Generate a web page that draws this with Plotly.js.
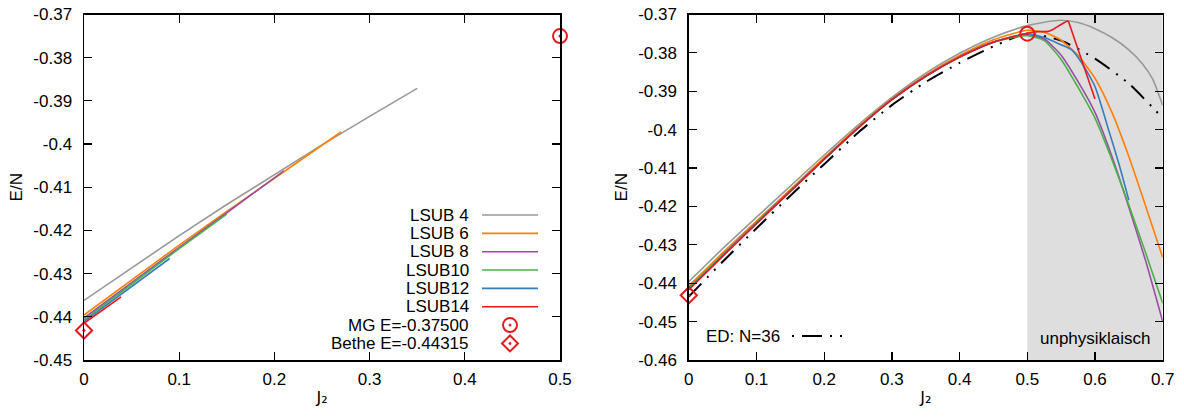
<!DOCTYPE html>
<html><head><meta charset="utf-8">
<script src="https://cdn.plot.ly/plotly-3.0.1.min.js"></script>
<style>html,body{margin:0;padding:0;background:#fff}#chart{width:1184px;height:419px}</style>
</head><body><div id="chart"></div>
<script>
// ---------- data ----------
const seriesNames = ["LSUB 4", "LSUB 6", "LSUB 8", "LSUB10", "LSUB12", "LSUB14"];
const seriesColors = ["#999999", "#ff7f00", "#984ea3", "#4daf4a", "#377eb8", "#e41a1c"];

// left panel (J2, E/N)
const leftLsub4J2 = [0, 0.05, 0.1, 0.15, 0.2, 0.25, 0.3, 0.35];
const leftLsub4E  = [-0.4362, -0.4286, -0.4212, -0.4140, -0.4070, -0.4002, -0.3936, -0.3871];
const leftLsub6J2 = [0, 0.05, 0.1, 0.15, 0.2, 0.27];
const leftLsub6E  = [-0.4396, -0.4314, -0.4234, -0.4156, -0.4079, -0.3972];
const leftLsub8J2 = [0, 0.05, 0.1, 0.15, 0.21];
const leftLsub8E  = [-0.4403, -0.4320, -0.4239, -0.4159, -0.4062];
const leftLsub10J2 = [0, 0.05, 0.1, 0.15];
const leftLsub10E  = [-0.4407, -0.4324, -0.4242, -0.4162];
const leftLsub12J2 = [0, 0.045, 0.09];
const leftLsub12E  = [-0.4411, -0.4338, -0.4265];
const leftLsub14J2 = [0, 0.02, 0.039];
const leftLsub14E  = [-0.4415, -0.4384, -0.4354];

// right panel (J2, E/N)
const rightLsub4J2 = [0, 0.05, 0.1, 0.15, 0.2, 0.25, 0.3, 0.35, 0.4, 0.45, 0.5, 0.525, 0.55, 0.575, 0.6, 0.625, 0.65, 0.67, 0.685, 0.7];
const rightLsub4E  = [-0.4396, -0.4310, -0.4228, -0.4147, -0.4066, -0.3988, -0.3916, -0.3853, -0.3801, -0.3759, -0.3729, -0.3720, -0.3715, -0.3721, -0.3737, -0.3760, -0.3792, -0.3828, -0.3868, -0.3937];
const rightLsub6J2 = [0, 0.05, 0.1, 0.15, 0.2, 0.25, 0.3, 0.35, 0.4, 0.45, 0.5, 0.525, 0.55, 0.575, 0.6, 0.625, 0.65, 0.675, 0.7];
const rightLsub6E  = [-0.4407, -0.4321, -0.4238, -0.4156, -0.4073, -0.3993, -0.3920, -0.3858, -0.3807, -0.3766, -0.3741, -0.3746, -0.3767, -0.3807, -0.3866, -0.3955, -0.4070, -0.4200, -0.4333];
const rightLsub8J2 = [0, 0.05, 0.1, 0.15, 0.2, 0.25, 0.3, 0.35, 0.4, 0.45, 0.5, 0.525, 0.55, 0.575, 0.6, 0.625, 0.65, 0.675, 0.7];
const rightLsub8E  = [-0.4412, -0.4326, -0.4242, -0.4159, -0.4076, -0.3995, -0.3921, -0.3860, -0.3810, -0.3771, -0.3752, -0.3764, -0.3806, -0.3875, -0.3955, -0.4070, -0.4202, -0.4343, -0.4500];
const rightLsub10J2 = [0, 0.05, 0.1, 0.15, 0.2, 0.25, 0.3, 0.35, 0.4, 0.45, 0.5, 0.525, 0.55, 0.575, 0.6, 0.625, 0.65, 0.675, 0.7];
const rightLsub10E  = [-0.4414, -0.4327, -0.4243, -0.4160, -0.4077, -0.3996, -0.3922, -0.3861, -0.3811, -0.3772, -0.3755, -0.3768, -0.3817, -0.3890, -0.3970, -0.4078, -0.4196, -0.4322, -0.4452];
const rightLsub12J2 = [0, 0.05, 0.1, 0.15, 0.2, 0.25, 0.3, 0.35, 0.4, 0.45, 0.5, 0.525, 0.55, 0.5655, 0.58, 0.6, 0.62, 0.635, 0.65];
const rightLsub12E  = [-0.4415, -0.4329, -0.4244, -0.4161, -0.4077, -0.3996, -0.3922, -0.3861, -0.3811, -0.3772, -0.3750, -0.3760, -0.3779, -0.3792, -0.3825, -0.3888, -0.4000, -0.4087, -0.4184];
const rightLsub14J2 = [0, 0.05, 0.1, 0.15, 0.2, 0.25, 0.3, 0.35, 0.4, 0.45, 0.5, 0.515, 0.531, 0.538, 0.548, 0.555, 0.5605, 0.6];
const rightLsub14E  = [-0.4417, -0.4330, -0.4245, -0.4161, -0.4077, -0.3996, -0.3922, -0.3861, -0.3811, -0.3772, -0.3749, -0.3745, -0.3744, -0.3739, -0.3728, -0.3721, -0.3716, -0.3920];

const edName = "ED: N=36";
const edJ2 = [0, 0.05, 0.1, 0.15, 0.2, 0.25, 0.3, 0.35, 0.4, 0.45, 0.5, 0.55, 0.6, 0.65, 0.7];
const edE  = [-0.4435, -0.4344, -0.4257, -0.4172, -0.4090, -0.4008, -0.3936, -0.3876, -0.3826, -0.3783, -0.3750, -0.3768, -0.3815, -0.3880, -0.3970];

const pointNames = ["MG E=-0.37500", "Bethe E=-0.44315"];
const pointJ2 = [0.5, 0];
const pointE  = [-0.375, -0.44315];

const unphysicalRange = [0.5, 0.7];
const unphysicalLabel = "unphysiklaisch";

const leftXTickVals = [0, 0.1, 0.2, 0.3, 0.4, 0.5];
const leftXTickText = ["0", "0.1", "0.2", "0.3", "0.4", "0.5"];
const leftYTickVals = [-0.45, -0.44, -0.43, -0.42, -0.41, -0.40, -0.39, -0.38, -0.37];
const leftYTickText = ["-0.45", "-0.44", "-0.43", "-0.42", "-0.41", "-0.4", "-0.39", "-0.38", "-0.37"];
const rightXTickVals = [0, 0.1, 0.2, 0.3, 0.4, 0.5, 0.6, 0.7];
const rightXTickText = ["0", "0.1", "0.2", "0.3", "0.4", "0.5", "0.6", "0.7"];
const rightYTickVals = [-0.46, -0.45, -0.44, -0.43, -0.42, -0.41, -0.40, -0.39, -0.38, -0.37];
const rightYTickText = ["-0.46", "-0.45", "-0.44", "-0.43", "-0.42", "-0.41", "-0.4", "-0.39", "-0.38", "-0.37"];

const xTitle = "J\u2082";
const yTitle = "E/N";

// ---------- layout helpers ----------
const W = 1184, H = 419;
const FONT = "Liberation Sans, Arial, Helvetica, sans-serif";
const FS = 17;
const px = v => v / W;
const py = v => 1 - v / H;

const leftSeries = [
  [leftLsub4J2, leftLsub4E], [leftLsub6J2, leftLsub6E], [leftLsub8J2, leftLsub8E],
  [leftLsub10J2, leftLsub10E], [leftLsub12J2, leftLsub12E], [leftLsub14J2, leftLsub14E]
];
const rightSeries = [
  [rightLsub4J2, rightLsub4E], [rightLsub6J2, rightLsub6E], [rightLsub8J2, rightLsub8E],
  [rightLsub10J2, rightLsub10E], [rightLsub12J2, rightLsub12E], [rightLsub14J2, rightLsub14E]
];

const traces = [];
leftSeries.forEach((s, i) => {
  traces.push({x: s[0], y: s[1], type: 'scatter', mode: 'lines', xaxis: 'x', yaxis: 'y',
    name: seriesNames[i], showlegend: false, hoverinfo: 'skip',
    line: {color: seriesColors[i], width: 1.6}});
});
traces.push({x: edJ2, y: edE, type: 'scatter', mode: 'lines', xaxis: 'x2', yaxis: 'y2',
  name: edName, showlegend: false, hoverinfo: 'skip',
  line: {color: '#000', width: 2, dash: '18px,8px,2px,8px,2px,8px', shape: 'spline', smoothing: 0.6}});
rightSeries.forEach((s, i) => {
  if (i === 5) {
    // split at the peak so the kink stays sharp
    let k = 0;
    s[1].forEach((v, j) => { if (v > s[1][k]) k = j; });
    traces.push({x: s[0].slice(0, k + 1), y: s[1].slice(0, k + 1), type: 'scatter', mode: 'lines',
      xaxis: 'x2', yaxis: 'y2', name: seriesNames[i], showlegend: false, hoverinfo: 'skip',
      line: {color: seriesColors[i], width: 1.6, shape: 'spline', smoothing: 0.6}});
    traces.push({x: s[0].slice(k), y: s[1].slice(k), type: 'scatter', mode: 'lines',
      xaxis: 'x2', yaxis: 'y2', name: seriesNames[i], showlegend: false, hoverinfo: 'skip',
      line: {color: seriesColors[i], width: 1.6}});
  } else {
    traces.push({x: s[0], y: s[1], type: 'scatter', mode: 'lines', xaxis: 'x2', yaxis: 'y2',
      name: seriesNames[i], showlegend: false, hoverinfo: 'skip',
      line: {color: seriesColors[i], width: 1.6, shape: 'spline', smoothing: 0.6}});
  }
});
const symbols = ['circle-open-dot', 'diamond-open-dot'];
const sizes = [14, 12.5];
[['x', 'y'], ['x2', 'y2']].forEach(ax => {
  pointNames.forEach((n, i) => {
    traces.push({x: [pointJ2[i]], y: [pointE[i]], type: 'scatter', mode: 'markers',
      xaxis: ax[0], yaxis: ax[1], name: n, showlegend: false, hoverinfo: 'skip', cliponaxis: false,
      marker: {symbol: symbols[i], size: sizes[i], color: '#e41a1c', line: {color: '#e41a1c', width: 2}}});
  });
});

const titleFont = {family: FONT, size: FS, color: '#000'};
const xTitleFont = {family: "DejaVu Sans, sans-serif", size: 16, color: '#000'};
const axisCommon = {
  showline: true, linecolor: '#000', linewidth: 1.5, mirror: 'allticks',
  ticks: 'inside', ticklen: 8, tickwidth: 1.2, tickcolor: '#000',
  showgrid: false, zeroline: false, automargin: false, fixedrange: true,
  tickmode: 'array', tickfont: {family: FONT, size: FS, color: '#000'}
};
const yDom = [py(360), py(14.5)];

const layout = {
  width: W, height: H,
  margin: {l: 0, r: 0, t: 0, b: 0, pad: 0},
  paper_bgcolor: '#fff', plot_bgcolor: '#fff',
  showlegend: false,
  font: {family: FONT, size: FS, color: '#000'},
  xaxis: Object.assign({}, axisCommon, {domain: [px(84), px(560)], range: [0, 0.5],
    tickvals: leftXTickVals, ticktext: leftXTickText, anchor: 'y', ticklabelstandoff: 3,
    title: {text: xTitle, font: xTitleFont, standoff: 4}}),
  yaxis: Object.assign({}, axisCommon, {domain: yDom, range: [-0.45, -0.37],
    tickvals: leftYTickVals, ticktext: leftYTickText, anchor: 'x', ticklabelstandoff: 7,
    title: {text: yTitle, font: titleFont, standoff: 6}}),
  xaxis2: Object.assign({}, axisCommon, {domain: [px(688.8), px(1162.7)], range: [0, 0.7],
    tickvals: rightXTickVals, ticktext: rightXTickText, anchor: 'y2', ticklabelstandoff: 3,
    title: {text: xTitle, font: xTitleFont, standoff: 4}}),
  yaxis2: Object.assign({}, axisCommon, {domain: yDom, range: [-0.46, -0.37],
    tickvals: rightYTickVals, ticktext: rightYTickText, anchor: 'x2', ticklabelstandoff: 7,
    title: {text: yTitle, font: titleFont, standoff: 6}}),
  shapes: [],
  annotations: []
};

// shaded unphysical region
layout.shapes.push({type: 'rect', xref: 'x2', yref: 'y2 domain', x0: unphysicalRange[0], x1: unphysicalRange[1],
  y0: 0, y1: 1, fillcolor: '#dedede', line: {width: 0}, layer: 'below'});

const ann = (text, x, y, extra) => Object.assign({text: text, x: x, y: y, xref: 'paper', yref: 'paper',
  showarrow: false, font: {family: FONT, size: FS, color: '#000'}}, extra || {});

// left key (gnuplot style: text right-aligned, sample to the right)
const keyTextRight = 471, keyX0 = 482, keyX1 = 538, keyMarkX = 510;
const rowY = i => 215 + i * 18.35;
seriesNames.forEach((n, i) => {
  layout.annotations.push(ann(n, px(keyTextRight), py(rowY(i)), {xanchor: 'right', yanchor: 'middle'}));
  layout.shapes.push({type: 'line', xref: 'paper', yref: 'paper', x0: px(keyX0), x1: px(keyX1),
    y0: py(rowY(i)), y1: py(rowY(i)), line: {color: seriesColors[i], width: 1.6}});
});
pointNames.forEach((n, i) => {
  const yy = rowY(6 + i);
  layout.annotations.push(ann(n, px(keyTextRight), py(yy), {xanchor: 'right', yanchor: 'middle'}));
});
{
  const cy = rowY(6), r = 7;
  layout.shapes.push({type: 'circle', xref: 'paper', yref: 'paper', x0: px(keyMarkX - r), x1: px(keyMarkX + r),
    y0: py(cy + r), y1: py(cy - r), line: {color: '#e41a1c', width: 2}});
  layout.shapes.push({type: 'circle', xref: 'paper', yref: 'paper', x0: px(keyMarkX - 1.2), x1: px(keyMarkX + 1.2),
    y0: py(cy + 1.2), y1: py(cy - 1.2), fillcolor: '#e41a1c', line: {color: '#e41a1c', width: 0.5}});
  const dy = rowY(7), d = 8;
  const path = 'M' + px(keyMarkX - d) + ',' + py(dy) + ' L' + px(keyMarkX) + ',' + py(dy - d) +
    ' L' + px(keyMarkX + d) + ',' + py(dy) + ' L' + px(keyMarkX) + ',' + py(dy + d) + ' Z';
  layout.shapes.push({type: 'path', xref: 'paper', yref: 'paper', path: path, line: {color: '#e41a1c', width: 2}});
  layout.shapes.push({type: 'circle', xref: 'paper', yref: 'paper', x0: px(keyMarkX - 1.2), x1: px(keyMarkX + 1.2),
    y0: py(dy + 1.2), y1: py(dy - 1.2), fillcolor: '#e41a1c', line: {color: '#e41a1c', width: 0.5}});
}

// right key
layout.annotations.push(ann(edName, px(782), py(336), {xanchor: 'right', yanchor: 'middle'}));
layout.shapes.push({type: 'line', xref: 'paper', yref: 'paper', x0: px(792), x1: px(844),
  y0: py(336), y1: py(336), line: {color: '#000', width: 2, dash: '2px,8px,20px,8px,2px,8px,2px,8px'}});
layout.annotations.push(ann(unphysicalLabel, px(1095), py(338), {xanchor: 'center', yanchor: 'middle'}));

Plotly.newPlot('chart', traces, layout, {displayModeBar: false, staticPlot: true});
</script></body></html>
